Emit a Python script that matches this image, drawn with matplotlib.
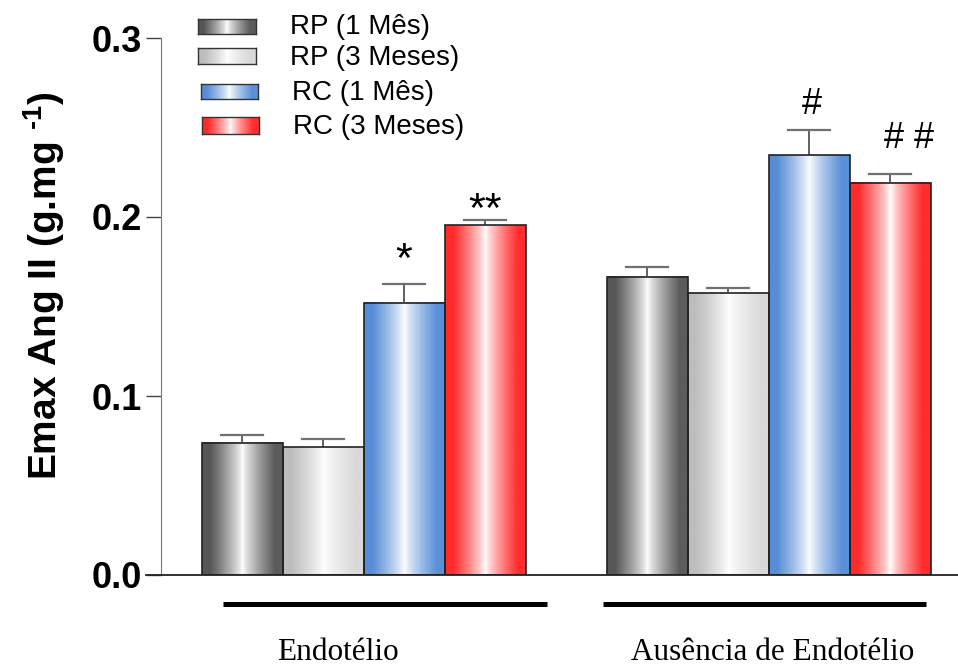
import numpy as np
import matplotlib
matplotlib.use('Agg')
import matplotlib.pyplot as plt
from matplotlib.patches import Rectangle

plt.rcParams['mathtext.fontset'] = 'custom'
plt.rcParams['mathtext.rm'] = 'Liberation Sans:bold'
plt.rcParams['mathtext.bf'] = 'Liberation Sans:bold'

# dados
grupos = ['Endotélio', 'Ausência de Endotélio']
series = ['RP (1 Mês)', 'RP (3 Meses)', 'RC (1 Mês)', 'RC (3 Meses)']
media = [[0.0739, 0.0713, 0.1521, 0.1954],
         [0.1667, 0.1577, 0.2345, 0.2192]]
epm = [[0.0043, 0.0049, 0.0103, 0.0029],
       [0.0052, 0.0026, 0.0141, 0.0048]]
marcas = [['', '', '*', '**'],
          ['', '', '#', '# #']]

# cores das bordas do degradê (esquerda, direita)
cores = [('#575757', '#5c5c5c'),
         ('#bdbdbd', '#d9d9d9'),
         ('#568dd6', '#5a90d8'),
         ('#ff2a2a', '#ff2d2d')]


def hex2rgb(h):
    h = h.lstrip('#')
    return np.array([int(h[i:i+2], 16) / 255 for i in (0, 2, 4)])


def degrade(c_esq, c_dir, n=200):
    x = np.linspace(0, 1, n)
    t = np.abs(x - 0.5) * 2
    m = np.clip(t / 0.8, 0, 1) ** 0.8
    esq = hex2rgb(c_esq)
    dir_ = hex2rgb(c_dir)
    base = np.where((x < 0.5)[:, None], esq[None, :], dir_[None, :])
    img = (1 - m[:, None]) * 1.0 + m[:, None] * base
    return img[np.newaxis, :, :]


fig = plt.figure(figsize=(9.58, 6.68), dpi=100)
ax = fig.add_axes([161/958, 1 - 575/668, 797/958, 537/668])

largura = 1.0
centros = [[1, 2, 3, 4], [6, 7, 8, 9]]
desloc_x = {'*': 0, '**': 0, '#': 0.04, '# #': 0.23}
desloc_y = {'*': 0.0068, '**': -0.0012, '#': 0.009, '# #': 0.0145}
tam_marca = {'*': 31, '**': 31, '#': 26, '# #': 26}

for g in range(len(grupos)):
    for s in range(len(series)):
        xc = centros[g][s]
        h = media[g][s]
        x0, x1 = xc - largura/2, xc + largura/2
        ax.imshow(degrade(*cores[s]), extent=[x0, x1, 0, h], aspect='auto',
                  interpolation='bilinear', zorder=2)
        ax.add_patch(Rectangle((x0, 0), largura, h, fill=False,
                               edgecolor='#222222', lw=1.2, zorder=3))
        e = epm[g][s]
        ax.plot([xc, xc], [h, h + e], color='#555555', lw=1.3, zorder=1)
        ax.plot([xc - 0.26, xc + 0.26], [h + e, h + e], color='#707070',
                lw=1.6, zorder=1)
        mk = marcas[g][s]
        if mk:
            ax.text(xc + desloc_x[mk], h + e + desloc_y[mk], mk,
                    ha='center', va='baseline', fontsize=tam_marca[mk],
                    family='Liberation Sans', zorder=4)

ax.set_xlim(0, 797/81)
ax.set_ylim(0, 0.3)
ax.set_yticks([0.0, 0.1, 0.2, 0.3])
ax.set_yticklabels(['0.0', '0.1', '0.2', '0.3'], fontsize=26,
                   fontweight='bold', family='Liberation Sans')
ax.tick_params(axis='y', length=11, width=1, color='#444444', pad=3)
ax.set_xticks([])
ax.spines['top'].set_visible(False)
ax.spines['right'].set_visible(False)
ax.spines['left'].set_color('#777777')
ax.spines['bottom'].set_linewidth(1.3)
ax.spines['bottom'].set_color('#222222')
ax.spines['bottom'].set_bounds(-15/81, 797/81)
ax.set_ylabel('Emax Ang II (g.mg $^{\\text{-1}}$)', fontsize=28,
              fontweight='bold', family='Liberation Sans')
ax.yaxis.set_label_coords(-94/797, (575 - 286)/537)

# linhas dos grupos e rótulos
linhas = [(0.765, 4.765), (5.457, 9.44)]
rotulo_x = [2.18, 7.55]
for g in range(len(grupos)):
    ax.plot(linhas[g], [-0.0162, -0.0162], color='black', lw=3.6,
            solid_capstyle='butt', clip_on=False)
    ax.text(rotulo_x[g], -0.0435, grupos[g], ha='center', va='center',
            fontsize=22.5, family='Liberation Serif')

# legenda manual
leg_caixas = [(198, 19, 58, 15), (198, 48, 58, 16),
              (201, 84, 57, 15), (202, 117, 57, 17)]
leg_texto = [(290, 27), (290, 58), (292, 93), (293, 127)]
for s in range(len(series)):
    bx, by, bw, bh = leg_caixas[s]
    lax = fig.add_axes([bx/958, 1 - (by + bh)/668, bw/958, bh/668])
    lax.imshow(degrade(*cores[s]), aspect='auto', extent=[0, 1, 0, 1],
               interpolation='bilinear')
    lax.set_xticks([])
    lax.set_yticks([])
    for sp in lax.spines.values():
        sp.set_color('#333333')
        sp.set_linewidth(1)
    tx, ty = leg_texto[s]
    fig.text(tx/958, 1 - ty/668, series[s], ha='left', va='center',
             fontsize=20, family='Liberation Sans')

fig.savefig('out.png', dpi=100)
